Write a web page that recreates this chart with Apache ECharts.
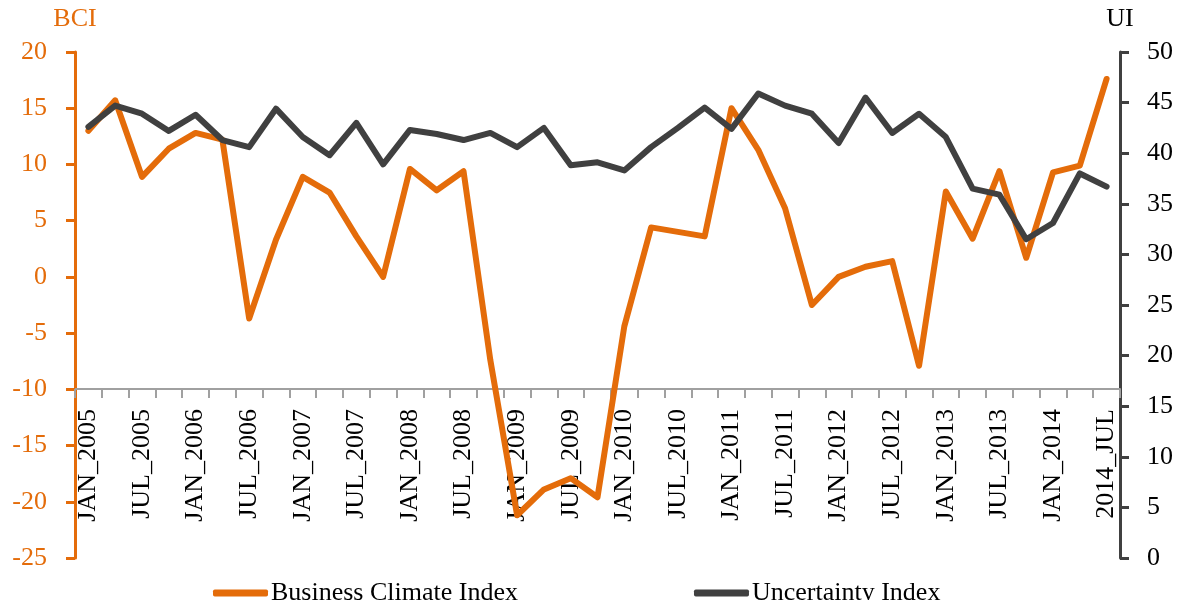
<!DOCTYPE html>
<html>
<head>
<meta charset="utf-8">
<title>BCI vs UI</title>
<script src="https://cdn.jsdelivr.net/npm/echarts@6.0.0/dist/echarts.min.js"></script>
<style>
  html, body { margin: 0; padding: 0; background: #fff; }
  #chart { width: 1179px; height: 600px; }
</style>
</head>
<body>
<div id="chart"></div>
<script>
// quarterly, only every second label is shown
let quarters = [
  'JAN_2005', 'APR_2005', 'JUL_2005', 'OCT_2005',
  'JAN_2006', 'APR_2006', 'JUL_2006', 'OCT_2006',
  'JAN_2007', 'APR_2007', 'JUL_2007', 'OCT_2007',
  'JAN_2008', 'APR_2008', 'JUL_2008', 'OCT_2008',
  'JAN_2009', 'APR_2009', 'JUL_2009', 'OCT_2009',
  'JAN_2010', 'APR_2010', 'JUL_2010', 'OCT_2010',
  'JAN_2011', 'APR_2011', 'JUL_2011', 'OCT_2011',
  'JAN_2012', 'APR_2012', 'JUL_2012', 'OCT_2012',
  'JAN_2013', 'APR_2013', 'JUL_2013', 'OCT_2013',
  'JAN_2014', 'APR_2014', '2014_JUL'
]
let bciValues = [
  13.0, 15.7, 8.9, 11.4, 12.8, 12.2, -3.7, 3.3, 8.9, 7.5,
  3.6, 0.0, 9.6, 7.7, 9.4, -7.4, -21.2, -18.9, -17.9, -19.6,
  -4.4, 4.4, 4.0, 3.6, 15.0, 11.3, 6.1, -2.5, 0.0, 0.9,
  1.4, -7.9, 7.6, 3.4, 9.4, 1.7, 9.3, 9.9, 17.6
]
let uiValues = [
  42.6, 44.7, 43.9, 42.2, 43.8, 41.3, 40.6, 44.4, 41.6, 39.8,
  43.0, 38.9, 42.3, 41.9, 41.3, 42.0, 40.6, 42.5, 38.8, 39.1,
  38.3, 40.6, 42.5, 44.5, 42.4, 45.9, 44.7, 43.9, 41.0, 45.5,
  42.0, 43.9, 41.6, 36.5, 35.9, 31.5, 33.1, 38.0, 36.7
]
let bciTicks = { min: -25, max: 20, step: 5 }
let uiTicks = { min: 0, max: 50, step: 5 }

let orange = '#E46C0A'
let grey = '#404040'
let serif = '"Liberation Serif", "DejaVu Serif", serif'

let myChart = echarts.init(document.getElementById('chart'), null, { renderer: 'canvas' })
let option = {
  backgroundColor: '#fff',
  animation: false,
  textStyle: { fontFamily: serif },
  grid: {
    left: 75,
    right: 59,
    top: 52,
    bottom: 42,
    containLabel: false,
    outerBoundsMode: 'none'
  },
  legend: {
    left: 208,
    top: 575,
    itemGap: 176,
    itemWidth: 55,
    itemHeight: 7,
    icon: 'roundRect',
    textStyle: { fontFamily: serif, fontSize: 26, color: '#000', padding: [0, 0, 0, -2] },
    data: ['Business Climate Index', 'Uncertainty Index']
  },
  xAxis: {
    type: 'category',
    data: quarters,
    boundaryGap: true,
    position: 'bottom',
    offset: -169, // axis crosses the BCI axis at -10
    axisLine: { onZero: false, lineStyle: { color: '#A0A0A0', width: 2 } },
    axisTick: { show: true, interval: 0, length: 9, lineStyle: { color: '#A0A0A0', width: 2 } },
    axisLabel: {
      interval: 1,
      rotate: 90,
      margin: 20,
      color: '#000',
      fontFamily: serif,
      fontSize: 26
    },
    splitLine: { show: false }
  },
  yAxis: [{
    type: 'value',
    name: 'BCI',
    nameLocation: 'end',
    nameGap: 20,
    nameTextStyle: { color: orange, fontFamily: serif, fontSize: 26 },
    position: 'left',
    min: bciTicks.min,
    max: bciTicks.max,
    interval: bciTicks.step,
    axisLine: { show: true, lineStyle: { color: orange, width: 3 } },
    axisTick: { show: true, length: 9, lineStyle: { color: orange, width: 3 } },
    axisLabel: { color: orange, fontFamily: serif, fontSize: 26, margin: 28 },
    splitLine: { show: false }
  }, {
    type: 'value',
    name: 'UI',
    nameLocation: 'end',
    nameGap: 20,
    nameTextStyle: { color: '#000', fontFamily: serif, fontSize: 26 },
    position: 'right',
    min: uiTicks.min,
    max: uiTicks.max,
    interval: uiTicks.step,
    axisLine: { show: true, lineStyle: { color: grey, width: 3 } },
    axisTick: { show: true, length: 9, lineStyle: { color: grey, width: 3 } },
    axisLabel: { color: '#000', fontFamily: serif, fontSize: 26, margin: 27 },
    splitLine: { show: false }
  }],
  series: [{
    name: 'Business Climate Index',
    type: 'line',
    yAxisIndex: 0,
    data: bciValues,
    symbol: 'none',
    lineStyle: { color: orange, width: 6, join: 'round', cap: 'round' },
    itemStyle: { color: orange },
    z: 2
  }, {
    name: 'Uncertainty Index',
    type: 'line',
    yAxisIndex: 1,
    data: uiValues,
    symbol: 'none',
    lineStyle: { color: grey, width: 6, join: 'round', cap: 'round' },
    itemStyle: { color: grey },
    z: 3
  }]
}
myChart.setOption(option)
</script>
</body>
</html>
